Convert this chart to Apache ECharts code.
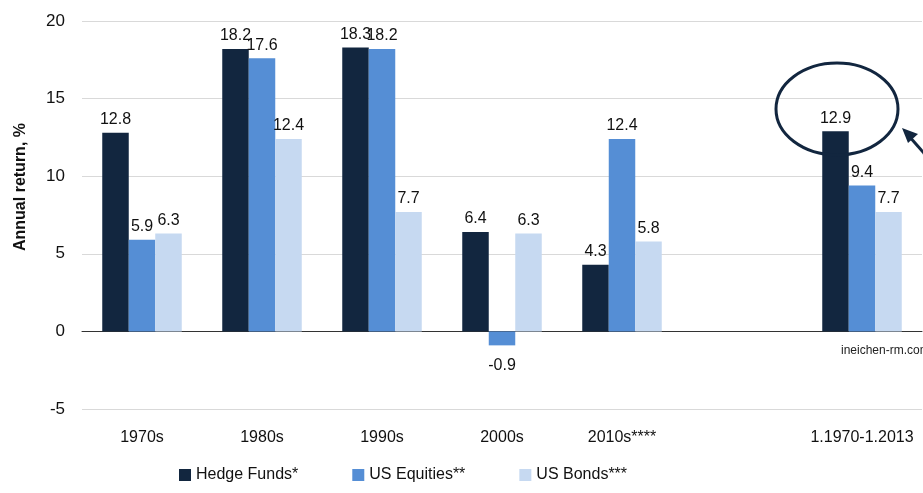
<!DOCTYPE html>
<html>
<head>
<meta charset="utf-8">
<script src="https://cdn.jsdelivr.net/npm/echarts@6/dist/echarts.min.js"></script>
<style>
  html, body { margin: 0; padding: 0; background: #fff; }
  #chart { width: 923px; height: 493px; }
</style>
</head>
<body>
<div id="chart"></div>
<script>
// data
const categories = ['1970s', '1980s', '1990s', '2000s', '2010s****', '', '1.1970-1.2013'];
const hedgeFunds = [12.8, 18.2, 18.3, 6.4, 4.3, null, 12.9];
const usEquities = [5.9, 17.6, 18.2, -0.9, 12.4, null, 9.4];
const usBonds = [6.3, 12.4, 7.7, 6.3, 5.8, null, 7.7];
const yTicks = [-5, 0, 5, 10, 15, 20];

const FONT = "'Liberation Sans Narrow', 'Arial Narrow', 'Liberation Sans', Arial, sans-serif";
const colors = ['#12263f', '#558ed5', '#c6d9f1'];

const chart = echarts.init(document.getElementById('chart'));

function toData(arr) {
  // negative values get their label under the bar
  return arr.map(v => {
    if (v === null) return null;
    if (v < 0) return { value: v, label: { position: 'bottom', distance: 12 } };
    return v;
  });
}

function makeSeries(name, arr, i) {
  return {
    name: name,
    type: 'bar',
    data: toData(arr),
    barWidth: 26.5,
    barGap: '0%',
    itemStyle: { color: colors[i] },
    label: {
      show: true,
      position: 'top',
      distance: 5,
      fontFamily: FONT,
      fontSize: 16,
      color: '#111'
    }
  };
}

chart.setOption({
  animation: false,
  textStyle: { fontFamily: FONT },
  grid: { left: 82, right: 1, top: 21, bottom: 84, containLabel: false, outerBoundsMode: 'none' },
  legend: {
    left: 174,
    top: 462,
    itemWidth: 12,
    itemHeight: 12,
    itemGap: 54,
    icon: 'rect',
    textStyle: { fontFamily: FONT, fontSize: 16, color: '#111' },
    data: ['Hedge Funds*', 'US Equities**', 'US Bonds***']
  },
  xAxis: {
    type: 'category',
    data: categories,
    axisLine: { onZero: true, lineStyle: { color: '#333', width: 1 } },
    axisTick: { show: false },
    axisLabel: {
      show: true,
      fontFamily: FONT,
      fontSize: 16,
      color: '#111',
      margin: 21,
      interval: 0
    }
  },
  yAxis: {
    type: 'value',
    min: yTicks[0],
    max: yTicks[yTicks.length - 1],
    interval: 5,
    name: 'Annual return, %',
    nameLocation: 'middle',
    nameGap: 53,
    nameRotate: 90,
    nameTextStyle: {
      fontFamily: FONT, fontSize: 16, fontWeight: 'bold', color: '#111',
      padding: [0, 0, 0, 56]  // nudges the title up a bit
    },
    axisLine: { show: false },
    axisTick: { show: false },
    axisLabel: { fontFamily: FONT, fontSize: 17, color: '#111', margin: 17 },
    splitLine: { lineStyle: { color: '#d9d9d9', width: 1 } }
  },
  series: [
    makeSeries('Hedge Funds*', hedgeFunds, 0),
    makeSeries('US Equities**', usEquities, 1),
    makeSeries('US Bonds***', usBonds, 2)
  ],
  graphic: [
    {
      type: 'ellipse',
      shape: { cx: 837, cy: 109, rx: 61, ry: 46 },
      style: { fill: 'none', stroke: '#12263f', lineWidth: 3 },
      z: 100
    },
    {
      type: 'line',
      shape: { x1: 930, y1: 160, x2: 908, y2: 135 },
      style: { stroke: '#12263f', lineWidth: 3 },
      z: 100
    },
    {
      type: 'polygon',
      shape: { points: [[902, 128], [918, 134], [908, 143]] },
      style: { fill: '#12263f' },
      z: 100
    },
    {
      type: 'text',
      left: 841,
      top: 345,
      style: { text: 'ineichen-rm.com', font: '12px ' + FONT, fill: '#222' },
      z: 100
    }
  ]
});
</script>
</body>
</html>
